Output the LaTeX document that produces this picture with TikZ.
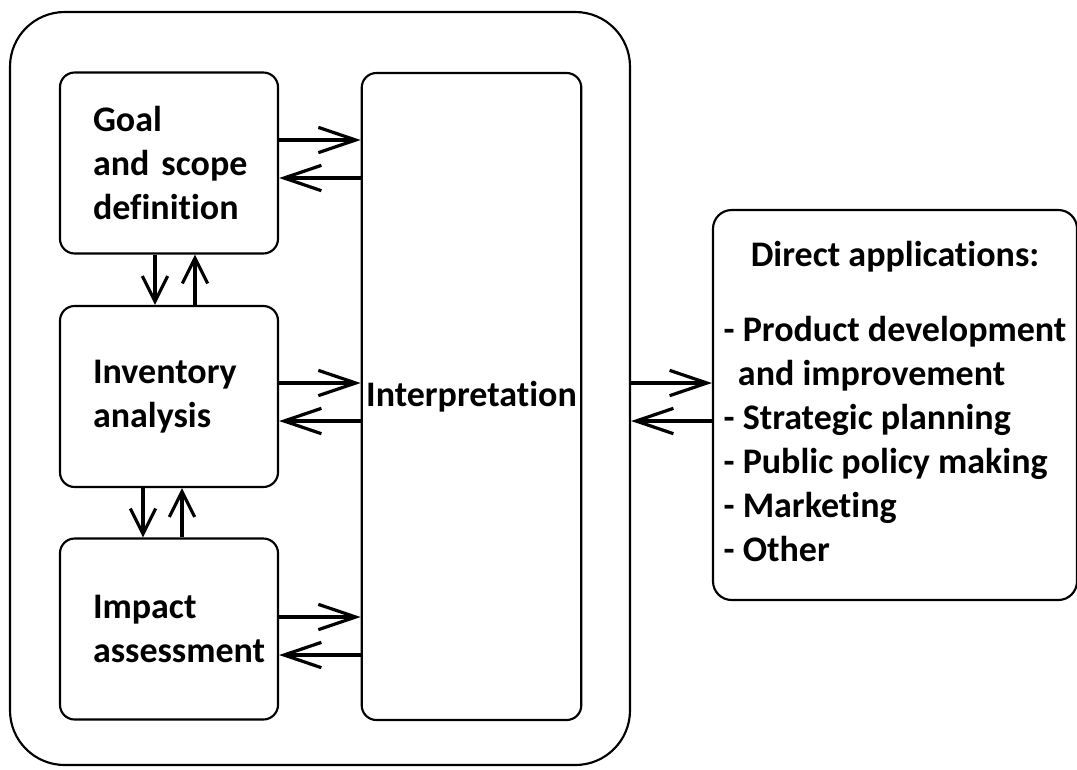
\documentclass[tikz,border=0pt]{standalone}
\usepackage{fontspec}
\setmainfont{Carlito}[Ligatures={NoCommon}]
\usetikzlibrary{arrows.meta}
\begin{document}
\begin{tikzpicture}[
  x=0.75pt, y=-0.75pt,
  line width=1.6pt,
  every node/.style={font=\fontsize{27}{33}\selectfont\bfseries},
  phase/.style={draw, rounded corners=11pt, align=left, inner xsep=24.75pt, text width=114pt, minimum height=135.75pt},
  frame/.style={draw, rounded corners=41pt, minimum width=465pt, minimum height=564.75pt},
  apps/.style={draw, rounded corners=14pt, minimum width=273pt, minimum height=292.5pt},
  flow/.style={line width=2.4pt, -{Straight Barb[length=28pt,width=19pt]}},
  link/.style={line width=2.4pt, -{Straight Barb[length=19pt,width=19pt]}}
]
  \useasboundingbox (0,0) rectangle (1077,769);
  \node[frame] (lca) at (320,388.5) {};
  \node[phase] (goal) at (169,163) {Goal\\\mbox{and scope}\\definition};
  \node[phase] (inv) at (169,396.5) {Inventory\\analysis};
  \node[phase] (imp) at (169,629) {Impact\\assessment};
  \node[draw, rounded corners=11pt, minimum width=162.75pt, minimum height=485.25pt] (interp) at (471.5,396.5) {\raisebox{-9pt}{Interpretation}};
  \node[apps] (use) at (895,405) {\begin{tabular}{@{}l@{}}
    \multicolumn{1}{@{}c@{}}{Direct applications:}\\[23pt]
    - Product development\\
    \hspace{0.4em}and improvement\\
    - Strategic planning\\
    - Public policy making\\
    - Marketing\\
    - Other
  \end{tabular}};
  \foreach \b/\u/\d in {goal/140/178, inv/383/421, imp/617/655} {
    \draw[flow] (\b.east |- 0,\u) -- (interp.west |- 0,\u);
    \draw[flow] (interp.west |- 0,\d) -- (\b.east |- 0,\d);
  }
  \draw[link] (goal.south -| 155,0) -- (inv.north -| 155,0);
  \draw[link] (inv.north -| 195,0) -- (goal.south -| 195,0);
  \draw[link] (inv.south -| 143,0) -- (imp.north -| 143,0);
  \draw[link] (imp.north -| 182,0) -- (inv.south -| 182,0);
  \draw[flow] (lca.east |- 0,383) -- (use.west |- 0,383);
  \draw[flow] (use.west |- 0,421) -- (lca.east |- 0,421);
\end{tikzpicture}
\end{document}
